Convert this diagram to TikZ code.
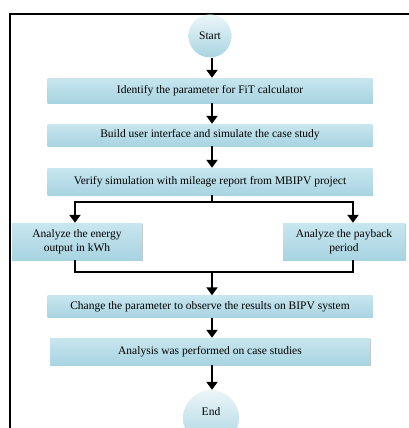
\documentclass[tikz,border=0pt]{standalone}
\usepackage{fontspec}
\setmainfont{Liberation Serif}
\usepackage{tikz}
\usetikzlibrary{positioning,arrows.meta,shadows}

\definecolor{boxtop}{RGB}{200,230,239}
\definecolor{boxmid}{RGB}{236,246,249}
\definecolor{boxbot}{RGB}{168,212,225}

\begin{document}
\begin{tikzpicture}[x=1pt,y=-1pt,
    block/.style={rectangle, minimum width=325pt, minimum height=24pt, align=center, inner sep=1pt,
        top color=boxtop, middle color=boxmid, bottom color=boxbot,
        drop shadow={shadow xshift=0.8pt, shadow yshift=-0.8pt, fill=gray!55, opacity=0.8},
        font=\fontsize{11.5}{13.5}\selectfont},
    sideblock/.style={block, minimum width=124pt, minimum height=37pt},
    term/.style={circle, inner sep=0pt, top color=boxmid, bottom color=boxbot,
        font=\fontsize{11.5}{13.5}\selectfont},
    link/.style={line width=2.8pt},
    flow/.style={link, -{Triangle[length=8pt,width=11pt]}}]
    \clip (0,0) rectangle (409,428);
    % frame
    \draw[line width=1.4pt] (10,14) rectangle (416,436);
    % blocks
    \node[term, minimum size=43pt] (start) at (210,36) {Start};
    \node[block, minimum height=25pt] (paramblock) at (210,90.5) {Identify the parameter for FiT calculator};
    \node[block, minimum height=22pt] (uiblock) at (210,135) {Build user interface and simulate the case study};
    \node[block, minimum height=27pt] (verifyblock) at (210,181.5) {Verify simulation with mileage report from MBIPV project};
    \node[sideblock, minimum width=130pt] (energyblock) at (77,241.5) {Analyze the energy\\output in kWh};
    \node[sideblock, minimum width=122pt] (paybackblock) at (344,241.5) {Analyze the payback\\period};
    \node[block, minimum height=22pt] (changeblock) at (210,306.5) {Change the parameter to observe the results on BIPV system};
    \node[block, minimum width=320pt, minimum height=27pt] (analysisblock) at (210,351.5) {Analysis was performed on case studies};
    \node[term, minimum size=56pt] (finish) at (211,418) {\raisebox{12pt}{End}};
    \coordinate (split) at (212,202);
    \coordinate (merge) at (212,272);
    % arrows
    \draw[flow] (start.south -| split) -- (paramblock.north -| split);
    \draw[flow] (paramblock.south -| split) -- (uiblock.north -| split);
    \draw[flow] (uiblock.south -| split) -- (verifyblock.north -| split);
    \draw[link] (verifyblock.south -| split) -- (split);
    \draw[flow] (split) -| ([xshift=-2]energyblock.north);
    \draw[flow] (split) -| ([xshift=9]paybackblock.north);
    \draw[link] ([xshift=-2]energyblock.south) |- (merge) -| ([xshift=9]paybackblock.south);
    \draw[flow] (merge) -- (changeblock.north -| merge);
    \draw[flow] (changeblock.south -| merge) -- (analysisblock.north -| merge);
    \draw[flow] (analysisblock.south -| merge) -- (finish.north -| merge);
\end{tikzpicture}
\end{document}
